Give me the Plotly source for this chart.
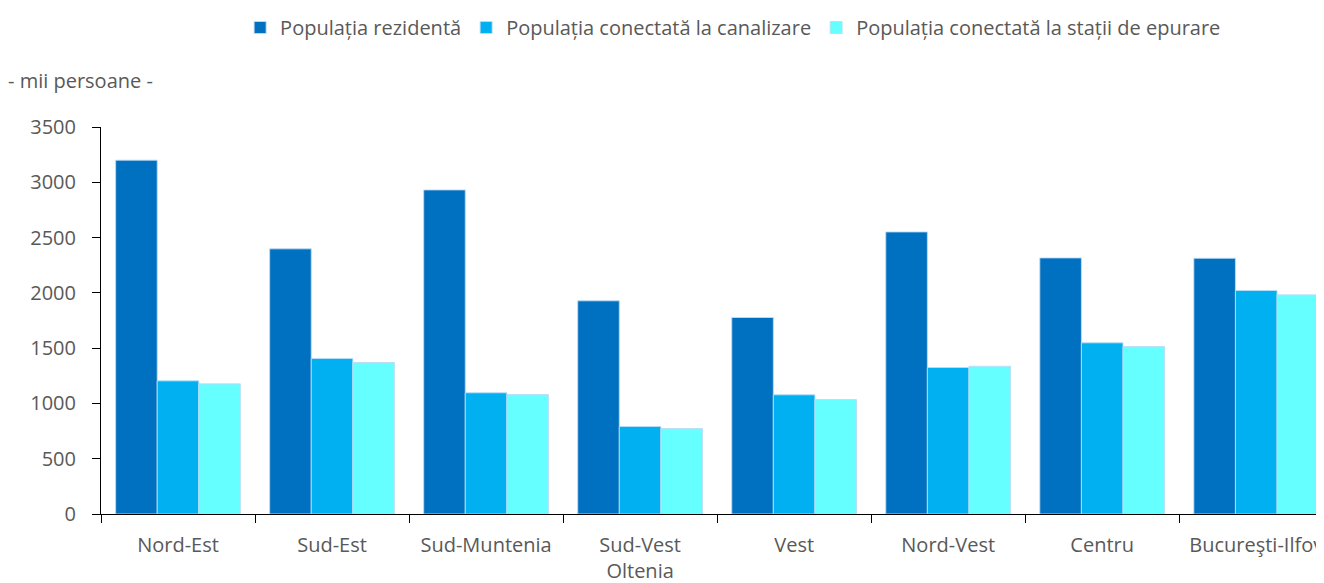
import plotly.graph_objects as go

# Regions and values (thousand persons)
regions = ['Nord-Est', 'Sud-Est', 'Sud-Muntenia', 'Sud-Vest<br>Oltenia', 'Vest',
           'Nord-Vest', 'Centru', 'Bucureşti-Ilfov']
resident = [3200, 2398, 2931, 1928, 1777, 2551, 2316, 2313]
sewerage = [1204, 1406, 1096, 791, 1078, 1325, 1548, 2021]
treatment = [1177, 1370, 1080, 773, 1035, 1336, 1514, 1982]

series_names = ['Populația rezidentă', 'Populația conectată la canalizare',
                'Populația conectată la stații de epurare']
colors = ['#0070C0', '#00B0F0', '#66FFFF']

fig = go.Figure()
for name, vals, col in zip(series_names, [resident, sewerage, treatment], colors):
    fig.add_trace(go.Bar(
        x=regions, y=vals, name=name,
        marker=dict(color=col, line=dict(color='rgba(190,220,245,0.9)', width=1)),
    ))

# page body has an 8px margin, so the figure is a bit smaller than the window
fig.update_layout(
    width=1316, height=575,
    barmode='group', bargap=0.19, bargroupgap=0,
    plot_bgcolor='white', paper_bgcolor='white',
    font=dict(family='Open Sans', size=20, color='#595959'),
    margin=dict(l=93, r=0, t=119, b=69, autoexpand=False),
    legend=dict(orientation='h', xref='container', x=0.551, xanchor='center',
                yref='container', y=1.0, yanchor='top',
                font=dict(size=20, color='#595959'), itemwidth=30,
                traceorder='normal'),
    annotations=[dict(text='- mii persoane -', xref='paper', yref='paper',
                      x=-95 / 1223, y=1.121, xanchor='left', yanchor='middle',
                      showarrow=False, font=dict(size=20, color='#595959'))],
)

fig.update_xaxes(
    type='category', range=[-0.5, 7.44], automargin=False,
    showline=True, linecolor='#000000', linewidth=1,
    ticks='outside', tickson='boundaries', ticklen=8, tickcolor='#000000',
    showgrid=False, ticklabelstandoff=13,
)
fig.update_yaxes(
    range=[0, 3500], dtick=500, automargin=False,
    showline=True, linecolor='#000000', linewidth=1,
    ticks='outside', ticklen=8, tickcolor='#000000',
    showgrid=False, zeroline=False, ticklabelstandoff=12,
)

fig.write_html('out.html')
